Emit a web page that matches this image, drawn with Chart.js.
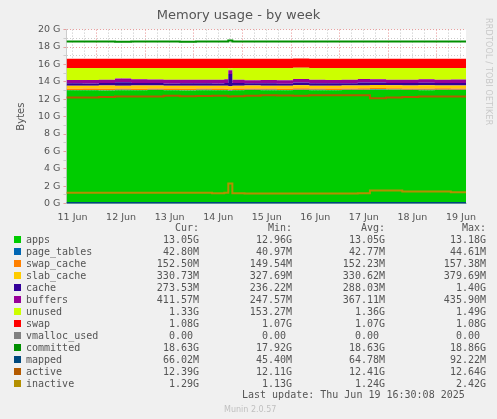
<!DOCTYPE html>
<html>
<head>
<meta charset="utf-8">
<script src="https://cdn.jsdelivr.net/npm/chart.js@4"></script>
<style>
  body { margin: 0; background: #f0f0f0; width: 497px; height: 419px; overflow: hidden; position: relative; font-family: "DejaVu Sans", sans-serif; }
  #wrap { position: absolute; left: 0; top: 0; width: 497px; height: 223px; }
  .rrd { position: absolute; right: 4px; top: 18px; writing-mode: vertical-rl; font-size: 8px; color: #c8c8c8; letter-spacing: 0.2px; }
  #legend { position: absolute; left: 0; top: 220px; font-family: "DejaVu Sans Mono", monospace; font-size: 10px; color: #555; }
  .row { position: absolute; height: 12px; white-space: pre; }
  .sw { position: absolute; width: 7px; height: 7px; top: 2px; }
  .num { position: absolute; text-align: right; width: 90px; }
  .foot { position: absolute; font-family: "DejaVu Sans Mono", monospace; font-size: 10px; color: #555; white-space: pre; }
</style>
</head>
<body>
<div id="wrap"><canvas id="memChart" width="497" height="223"></canvas></div>
<div class="rrd">RRDTOOL / TOBI OETIKER</div>
<div id="legend"></div>
<div class="foot" style="left:242px; top:389px;">Last update: Thu Jun 19 16:30:08 2025</div>
<div class="foot" style="left:224px; top:405px; font-family:'DejaVu Sans'; font-size:8px; color:#c0c0c0;">Munin 2.0.57</div>
<script>
// hours since 11 Jun 09:00
const hours = [0, 8, 16, 24, 32, 40, 48, 56, 64, 72, 78, 80, 82, 88, 96, 104, 112, 120, 128, 136, 144, 150, 158, 166, 174, 182, 190, 197.5];

const apps       = [13.02, 13.03, 13.00, 13.04, 13.02, 13.05, 13.03, 13.00, 13.04, 13.03, 13.02, 12.95, 13.03, 13.05, 13.04, 13.02, 13.06, 13.04, 13.03, 13.05, 13.06, 13.10, 13.08, 13.05, 13.04, 13.06, 13.05, 13.05];
const pageTables = [0.04, 0.04, 0.04, 0.04, 0.04, 0.04, 0.04, 0.04, 0.04, 0.04, 0.04, 0.04, 0.04, 0.04, 0.04, 0.04, 0.04, 0.04, 0.04, 0.04, 0.04, 0.04, 0.04, 0.04, 0.04, 0.04, 0.04, 0.04];
const swapCache  = [0.15, 0.15, 0.16, 0.15, 0.15, 0.15, 0.15, 0.15, 0.15, 0.15, 0.15, 0.15, 0.15, 0.15, 0.15, 0.15, 0.15, 0.15, 0.15, 0.15, 0.15, 0.15, 0.15, 0.15, 0.15, 0.15, 0.15, 0.15];
const slabCache  = [0.33, 0.33, 0.38, 0.33, 0.36, 0.34, 0.33, 0.35, 0.33, 0.33, 0.34, 0.35, 0.33, 0.33, 0.33, 0.33, 0.36, 0.33, 0.33, 0.34, 0.33, 0.33, 0.33, 0.33, 0.36, 0.33, 0.33, 0.33];
const cache      = [0.28, 0.25, 0.27, 0.40, 0.30, 0.27, 0.26, 0.28, 0.27, 0.26, 0.30, 1.40, 0.30, 0.26, 0.27, 0.25, 0.32, 0.28, 0.27, 0.26, 0.35, 0.30, 0.27, 0.28, 0.30, 0.27, 0.28, 0.27];
const buffers    = [0.40, 0.40, 0.40, 0.41, 0.41, 0.41, 0.42, 0.42, 0.42, 0.43, 0.43, 0.43, 0.40, 0.36, 0.37, 0.38, 0.39, 0.39, 0.40, 0.40, 0.38, 0.37, 0.38, 0.39, 0.40, 0.40, 0.41, 0.41];
const unused     = [1.36, 1.38, 1.33, 1.21, 1.30, 1.32, 1.35, 1.34, 1.33, 1.34, 1.30, 0.25, 1.33, 1.39, 1.38, 1.41, 1.29, 1.35, 1.36, 1.34, 1.27, 1.29, 1.33, 1.34, 1.29, 1.33, 1.32, 1.33];
const swap       = [1.08, 1.08, 1.08, 1.08, 1.08, 1.08, 1.08, 1.08, 1.08, 1.08, 1.08, 1.08, 1.08, 1.08, 1.08, 1.08, 1.08, 1.08, 1.08, 1.08, 1.08, 1.08, 1.08, 1.08, 1.08, 1.08, 1.08, 1.08];
const committed  = [18.63, 18.63, 18.63, 18.60, 18.63, 18.63, 18.63, 18.60, 18.63, 18.63, 18.63, 18.75, 18.63, 18.63, 18.63, 18.63, 18.63, 18.63, 18.63, 18.63, 18.63, 18.63, 18.63, 18.63, 18.63, 18.63, 18.63, 18.63];
const mapped     = [0.07, 0.07, 0.07, 0.07, 0.07, 0.07, 0.07, 0.07, 0.07, 0.07, 0.07, 0.07, 0.07, 0.07, 0.07, 0.07, 0.07, 0.07, 0.07, 0.07, 0.07, 0.07, 0.07, 0.07, 0.07, 0.07, 0.07, 0.07];
const active     = [12.20, 12.20, 12.25, 12.30, 12.30, 12.32, 12.40, 12.35, 12.38, 12.40, 12.40, 12.30, 12.35, 12.40, 12.45, 12.42, 12.40, 12.45, 12.46, 12.46, 12.44, 12.10, 12.20, 12.25, 12.30, 12.30, 12.32, 12.32];
const inactive   = [1.25, 1.25, 1.25, 1.25, 1.25, 1.25, 1.25, 1.25, 1.25, 1.20, 1.25, 2.30, 1.20, 1.15, 1.15, 1.15, 1.15, 1.15, 1.15, 1.15, 1.20, 1.50, 1.52, 1.38, 1.38, 1.38, 1.30, 1.29];

const yTicks = [0, 2, 4, 6, 8, 10, 12, 14, 16, 18, 20];
const dayLabels = ['11 Jun', '12 Jun', '13 Jun', '14 Jun', '15 Jun', '16 Jun', '17 Jun', '18 Jun', '19 Jun'];
const firstMidnight = 15; // hour of 12 Jun 00:00

const legendRows = [
  ['apps',         '#00CC00', '13.05G',  '12.96G',  '13.05G',  '13.18G'],
  ['page_tables',  '#0066B3', '42.80M',  '40.97M',  '42.77M',  '44.61M'],
  ['swap_cache',   '#FF8000', '152.50M', '149.54M', '152.23M', '157.38M'],
  ['slab_cache',   '#FFCC00', '330.73M', '327.69M', '330.62M', '379.69M'],
  ['cache',        '#330099', '273.53M', '236.22M', '288.03M', '1.40G'],
  ['buffers',      '#990099', '411.57M', '247.57M', '367.11M', '435.90M'],
  ['unused',       '#CCFF00', '1.33G',   '153.27M', '1.36G',   '1.49G'],
  ['swap',         '#FF0000', '1.08G',   '1.07G',   '1.07G',   '1.08G'],
  ['vmalloc_used', '#808080', '0.00 ',   '0.00 ',   '0.00 ',   '0.00 '],
  ['committed',    '#008F00', '18.63G',  '17.92G',  '18.63G',  '18.86G'],
  ['mapped',       '#00487D', '66.02M',  '45.40M',  '64.78M',  '92.22M'],
  ['active',       '#B35A00', '12.39G',  '12.11G',  '12.41G',  '12.64G'],
  ['inactive',     '#B38F00', '1.29G',   '1.13G',   '1.24G',   '2.42G']
];

function pts(arr) { return arr.map((v, i) => ({ x: hours[i], y: v })); }

function area(label, arr, color) {
  return { label, data: pts(arr), stack: 's', fill: '-1', backgroundColor: color, borderColor: color,
           borderWidth: 0, pointRadius: 0, stepped: true, order: 1 };
}
function line(label, arr, color) {
  return { label, data: pts(arr), stack: label, fill: false, borderColor: color, borderWidth: 2,
           pointRadius: 0, stepped: true, order: 0 };
}

const datasets = [
  Object.assign(area('apps', apps, '#00CC00'), { fill: 'origin' }),
  area('page_tables', pageTables, '#0066B3'),
  area('swap_cache', swapCache, '#FF8000'),
  area('slab_cache', slabCache, '#FFCC00'),
  area('cache', cache, '#330099'),
  area('buffers', buffers, '#990099'),
  area('unused', unused, '#CCFF00'),
  area('swap', swap, '#FF0000'),
  line('committed', committed, '#008F00'),
  line('mapped', mapped, '#00487D'),
  line('active', active, '#B35A00'),
  line('inactive', inactive, '#B38F00')
];

new Chart(document.getElementById('memChart'), {
  type: 'line',
  data: { datasets },
  options: {
    responsive: false,
    animation: false,
    layout: { padding: { left: 11, right: 31, top: 8, bottom: 0 } },
    plugins: {
      legend: { display: false },
      tooltip: { enabled: false },
      title: { display: true, text: 'Memory usage - by week', color: '#555', font: { family: 'DejaVu Sans', size: 13, weight: 'normal' }, padding: { top: 0, bottom: 6 } }
    },
    scales: {
      x: {
        type: 'linear', min: 0, max: 197.5,
        afterBuildTicks: ax => { ax.ticks = dayLabels.map((d, i) => ({ value: firstMidnight - 12 + i * 24 })); },
        ticks: { callback: (v, i) => dayLabels[i], color: '#555', font: { family: 'DejaVu Sans', size: 9.5 }, maxRotation: 0, autoSkip: false, padding: 0 },
        grid: { display: false },
        border: { color: '#ccc' }
      },
      xg: {
        type: 'linear', min: 0, max: 197.5, display: true, position: 'bottom',
        afterBuildTicks: ax => {
          const t = [];
          for (let h = firstMidnight - 12; h <= 197.5; h += 6) if (h > 0) t.push({ value: h });
          ax.ticks = t;
        },
        afterFit: ax => { ax.height = 0; },
        ticks: { display: false, padding: 0 },
        grid: {
          color: c => ((c.tick.value - firstMidnight) % 24 === 0 ? 'rgba(230,130,130,0.9)' : 'rgba(190,190,190,0.9)'),
          drawTicks: false, lineWidth: 1
        },
        border: { display: false, dash: [1, 2] }
      },
      y: {
        stacked: true, min: 0, max: 20,
        afterBuildTicks: ax => {
          const t = [];
          for (let v = 0; v <= 20; v += 1) t.push({ value: v });
          ax.ticks = t;
        },
        ticks: {
          callback: v => (yTicks.includes(v) ? v + ' G' : ''),
          color: '#555', font: { family: 'DejaVu Sans', size: 9.5 }, padding: 3, autoSkip: false
        },
        title: { display: true, text: 'Bytes', color: '#555', font: { family: 'DejaVu Sans', size: 10 }, padding: { bottom: 8 } },
        grid: { color: c => (c.tick.value % 2 === 0 ? 'rgba(230,150,150,0.9)' : 'rgba(200,200,200,0.9)'), tickLength: 3 },
        border: { color: '#ccc', dash: [1, 2] }
      }
    }
  },
  plugins: [{
    id: 'whiteBg',
    beforeDraw(chart) {
      const a = chart.chartArea, ctx = chart.ctx;
      ctx.save(); ctx.fillStyle = '#fff'; ctx.fillRect(a.left, a.top, a.width, a.height); ctx.restore();
    }
  }]
});

const leg = document.getElementById('legend');
const cols = [199, 292, 385, 486];
const hdr = document.createElement('div');
hdr.className = 'row'; hdr.style.top = '2px';
['Cur:', 'Min:', 'Avg:', 'Max:'].forEach((h, i) => {
  const s = document.createElement('div'); s.className = 'num'; s.style.left = (cols[i] - 90) + 'px'; s.textContent = h; hdr.appendChild(s);
});
leg.appendChild(hdr);
legendRows.forEach((r, k) => {
  const row = document.createElement('div');
  row.className = 'row'; row.style.top = (14 + k * 12) + 'px';
  const sw = document.createElement('div'); sw.className = 'sw'; sw.style.left = '14px'; sw.style.background = r[1]; row.appendChild(sw);
  const nm = document.createElement('div'); nm.style.position = 'absolute'; nm.style.left = '26px'; nm.textContent = r[0]; row.appendChild(nm);
  for (let i = 0; i < 4; i++) {
    const s = document.createElement('div'); s.className = 'num'; s.style.left = (cols[i] - 90) + 'px'; s.textContent = r[2 + i]; row.appendChild(s);
  }
  leg.appendChild(row);
});
</script>
</body>
</html>
